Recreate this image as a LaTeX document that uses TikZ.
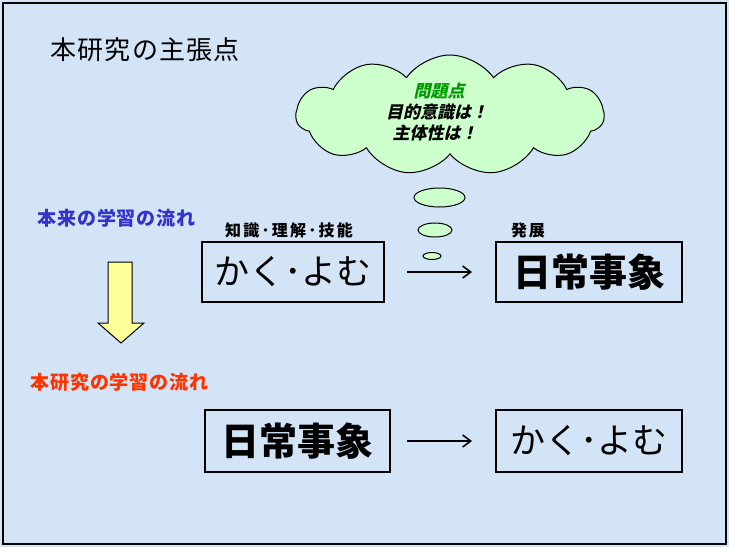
\documentclass[tikz,border=0pt]{standalone}
\usepackage{fontspec}
\usetikzlibrary{shapes.symbols,shapes.geometric,arrows.meta}
\newfontfamily\jp{Noto Sans CJK JP}
\newfontfamily\jpsl[FakeSlant=0.22, BoldFeatures={FakeSlant=0.22}]{Noto Sans CJK JP}
\definecolor{bgblue}{RGB}{210,228,246}
\definecolor{cloudgreen}{RGB}{204,255,204}
\definecolor{textgreen}{RGB}{0,153,0}
\definecolor{textblue}{RGB}{51,51,204}
\definecolor{textred}{RGB}{255,51,0}
\definecolor{arrowyellow}{RGB}{255,255,153}
\tikzset{
  wordbox/.style={draw=black, line width=2pt, inner sep=0pt, minimum height=60pt, font=\jp},
  label/.style={inner sep=0pt, anchor=west, font=\jp},
  cloudtext/.style={inner sep=0pt, font=\jpsl\bfseries\fontsize{17}{20}\selectfont},
  bubble/.style={ellipse, draw=black, line width=1pt, fill=cloudgreen, inner sep=0pt},
  conn/.style={line width=1.6pt, -{Straight Barb[length=8pt,width=12pt,line width=1.6pt]}},
}
\begin{document}
\begin{tikzpicture}[x=1pt,y=-1pt]
\useasboundingbox (0,0) rectangle (729,547);
\fill[bgblue] (0,0) rectangle (729,547);
\draw[line width=2pt] (3,3) rectangle (726,544);
% title
\node[label, font=\jp\fontsize{26}{30}\selectfont\addfontfeature{LetterSpace=5}] (title) at (50,50) {本研究の主張点};
% cloud
\node[cloud, cloud puffs=11, cloud puff arc=110, aspect=2.7, draw=black, line width=1pt, fill=cloudgreen,
      minimum width=308pt, minimum height=120pt, inner sep=0pt] (cloud) at (450,115) {};
\node[cloudtext, text=textgreen] (p1) at (439,91) {問題点};
\node[cloudtext] (p2) at (437,112) {目的意識は！};
\node[cloudtext] (p3) at (435,133) {主体性は！};
% thought bubbles
\node[bubble, minimum width=51pt, minimum height=19pt] (b1) at (439.5,197.5) {};
\node[bubble, minimum width=34pt, minimum height=14pt] (b2) at (435,230) {};
\node[bubble, minimum width=18pt, minimum height=7pt] (b3) at (432,256) {};
% left labels
\node[label, text=textblue, font=\jp\bfseries\fontsize{19}{22}\selectfont\addfontfeature{LetterSpace=5}] (l1) at (37,218) {本来の学習の流れ};
\node[label, text=textred, font=\jp\bfseries\fontsize{19}{22}\selectfont\addfontfeature{LetterSpace=5}] (l2) at (30,382) {本研究の学習の流れ};
% yellow arrow
\draw[fill=arrowyellow, line width=1pt] (108,262) -- (132,262) -- (132,323) -- (144,323) -- (121,343) -- (98,323) -- (108,323) -- cycle;
% small labels
\node[label, font=\jp\bfseries\fontsize{16}{20}\selectfont\addfontfeature{LetterSpace=14}] (k) at (225,230) {知識･理解･技能};
\node[label, font=\jp\bfseries\fontsize{16}{20}\selectfont\addfontfeature{LetterSpace=10}] (h) at (511,230) {発展};
% boxes
\node[wordbox, minimum width=182pt, font=\jp\fontsize{35}{40}\selectfont] (a1) at (293,272) {かく･よむ};
\node[wordbox, minimum width=186pt, font=\jp\bfseries\fontsize{38}{44}\selectfont] (a2) at (589,272) {日常事象};
\node[wordbox, minimum width=185pt, minimum height=62pt, font=\jp\bfseries\fontsize{38}{44}\selectfont] (c1) at (297.5,441) {日常事象};
\node[wordbox, minimum width=186pt, minimum height=62pt, font=\jp\fontsize{35}{40}\selectfont] (c2) at (589,441) {かく･よむ};
% connectors
\draw[conn, shorten <=22pt, shorten >=23pt] (a1) -- (a2);
\draw[conn, shorten <=16pt, shorten >=23pt] (c1) -- (c2);
\end{tikzpicture}
\end{document}
